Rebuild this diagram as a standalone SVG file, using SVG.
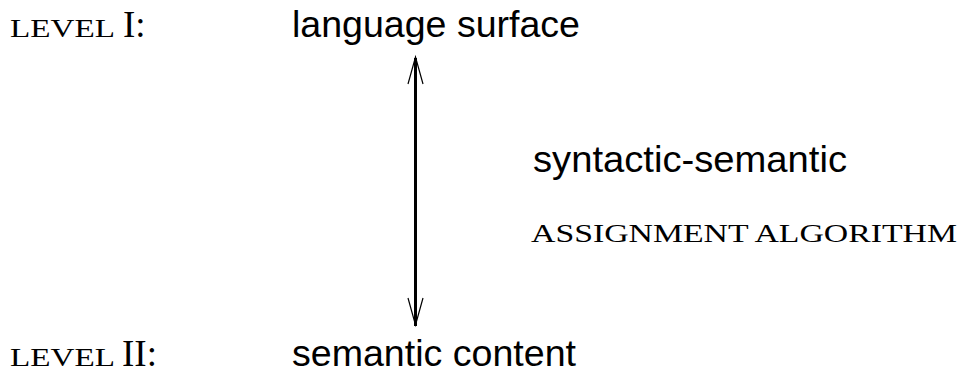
<svg xmlns="http://www.w3.org/2000/svg" width="960" height="380" viewBox="0 0 960 380">
<style>
.sans{font-family:"Liberation Sans",Arial,sans-serif;font-size:37px;fill:#000}
.serif{font-family:"Liberation Serif","Times New Roman",serif;fill:#000}
.sc{font-size:25px}
.big{font-size:37px}
.shaft{stroke:#000;stroke-width:3;fill:none}
.head{stroke:#000;stroke-width:1.2;fill:none}
</style>
<rect width="960" height="380" fill="#fff"/>
<g id="level1">
<text class="serif" y="37"><tspan class="sc" x="10" textLength="105" lengthAdjust="spacingAndGlyphs">LEVEL</tspan> <tspan class="big" x="123">I:</tspan></text>
</g>
<g id="language-surface">
<text class="sans" x="292" y="37" textLength="288" lengthAdjust="spacingAndGlyphs">language surface</text>
</g>
<g id="level2">
<text class="serif" y="366"><tspan class="sc" x="10" textLength="105" lengthAdjust="spacingAndGlyphs">LEVEL</tspan> <tspan class="big" x="122">II:</tspan></text>
</g>
<g id="semantic-content">
<text class="sans" x="292" y="366" textLength="284" lengthAdjust="spacingAndGlyphs">semantic content</text>
</g>
<g id="label">
<text class="sans" x="533" y="172" textLength="314" lengthAdjust="spacingAndGlyphs">syntactic-semantic</text>
<text class="serif sc" x="531" y="242" textLength="426" lengthAdjust="spacingAndGlyphs">ASSIGNMENT ALGORITHM</text>
</g>
<g id="connectors">
<line class="shaft" x1="415.5" y1="58" x2="415.5" y2="326"/>
<path class="head" d="M408,84 L415.5,57 L423,84"/>
<path class="head" d="M408,298 L415.5,325 L423,298"/>
</g>
</svg>
